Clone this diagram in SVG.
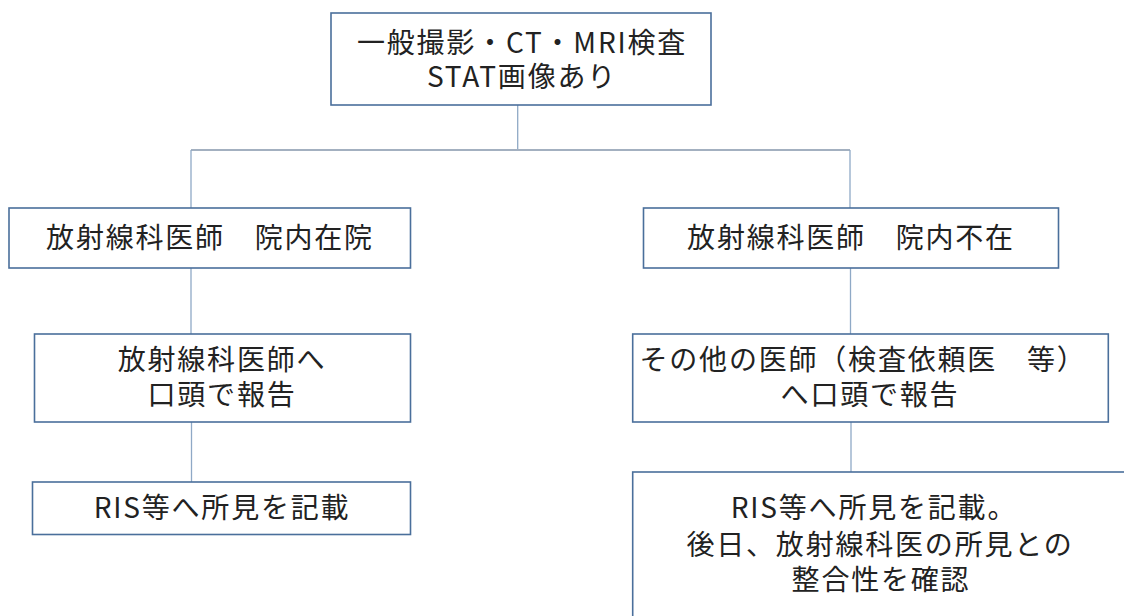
<svg xmlns="http://www.w3.org/2000/svg" width="1124" height="616" viewBox="0 0 1124 616">
<style>
.box{fill:#ffffff;stroke:#4a6f9b;stroke-width:1.6}
.t{font-family:"Noto Sans CJK JP","Noto Sans",sans-serif;font-size:28px;fill:#222222;text-anchor:middle;letter-spacing:1.8px}
.c{fill:none;stroke:#8fa9c6;stroke-width:1.3}
.h{fill:none;stroke:#a3b0c0;stroke-width:2}
</style>
<rect width="1124" height="616" fill="#ffffff"/>
<g id="connectors">
<path class="c" d="M517.7 105V150"/>
<path class="h" d="M191 150H850"/>
<path class="c" d="M191 150V208"/>
<path class="c" d="M850 150V208"/>
<path class="c" d="M191 268V334"/>
<path class="c" d="M850.5 268V334"/>
<path class="c" d="M191.5 422V482"/>
<path class="c" d="M851 422V472"/>
</g>
<g id="n1">
<rect class="box" x="331" y="13" width="380" height="92"/>
<text class="t"><tspan x="522" y="53">一般撮影・CT・MRI検査</tspan><tspan x="522" y="87">STAT画像あり</tspan></text>
</g>
<g id="n2">
<rect class="box" x="9" y="208" width="401.5" height="60"/>
<text class="t" x="210" y="248">放射線科医師　院内在院</text>
</g>
<g id="n3">
<rect class="box" x="643.5" y="208" width="415" height="60"/>
<text class="t" x="851" y="248">放射線科医師　院内不在</text>
</g>
<g id="n4">
<rect class="box" x="34.5" y="334" width="376" height="88"/>
<text class="t"><tspan x="222" y="370">放射線科医師へ</tspan><tspan x="222" y="405">口頭で報告</tspan></text>
</g>
<g id="n5">
<rect class="box" x="32.5" y="482" width="378" height="52.5"/>
<text class="t" x="222" y="518">RIS等へ所見を記載</text>
</g>
<g id="n6">
<rect class="box" x="632.7" y="334" width="475.6" height="88"/>
<text class="t"><tspan x="863" y="370">その他の医師（検査依頼医　等）</tspan><tspan x="870" y="405">へ口頭で報告</tspan></text>
</g>
<g id="n7">
<rect class="box" x="632.7" y="472" width="495" height="160"/>
<text class="t"><tspan x="874" y="518">RIS等へ所見を記載。</tspan><tspan x="880" y="555">後日、放射線科医の所見との</tspan><tspan x="881" y="590">整合性を確認</tspan></text>
</g>
</svg>
